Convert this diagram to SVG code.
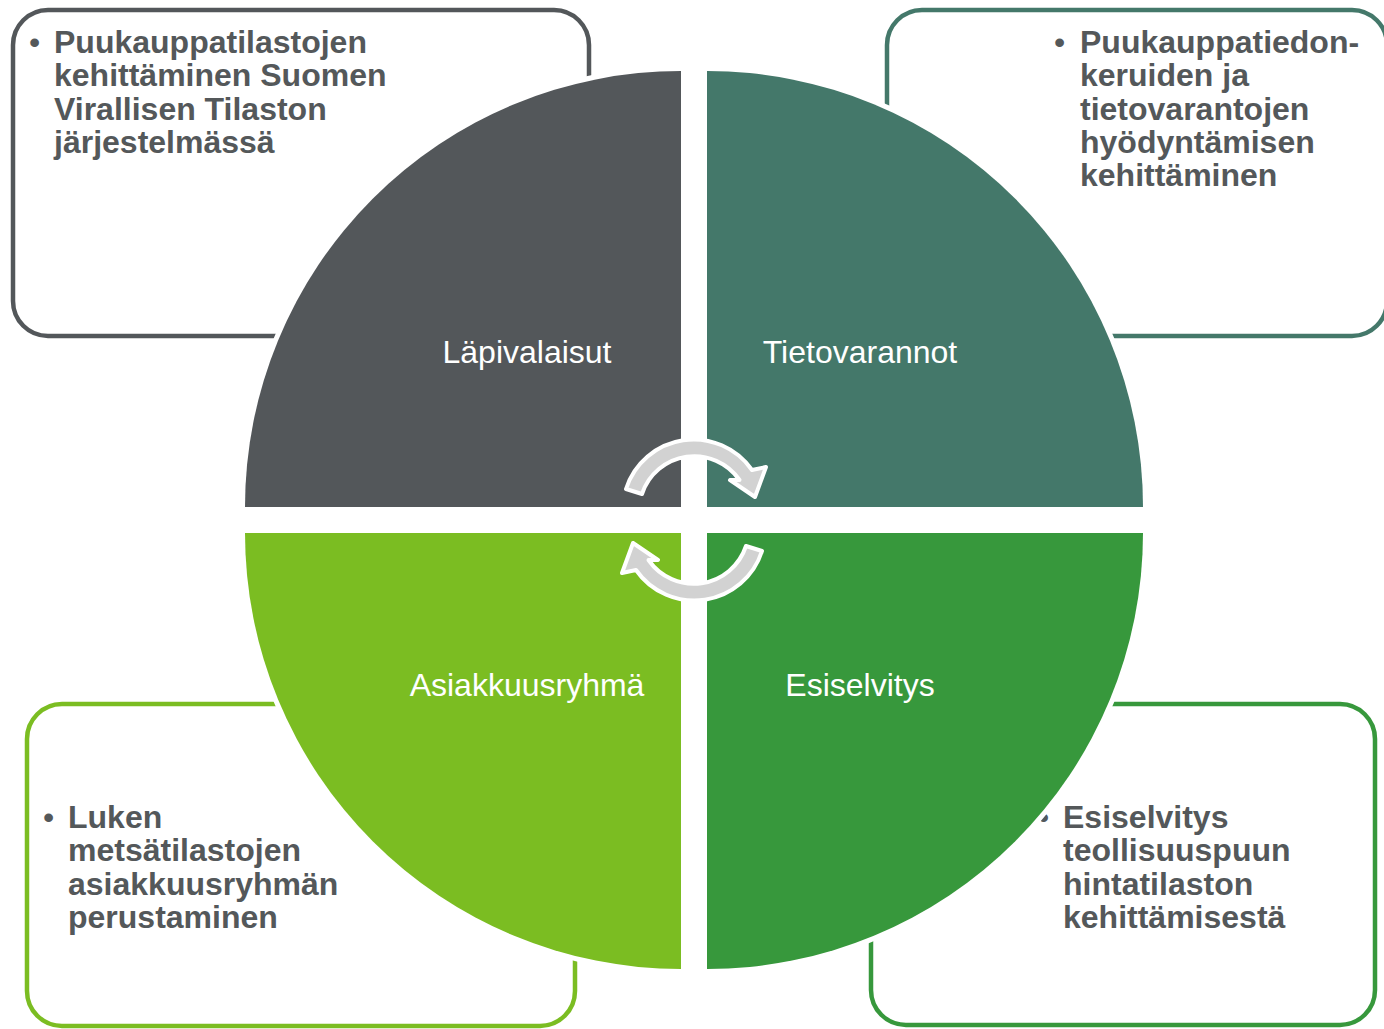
<svg xmlns="http://www.w3.org/2000/svg" width="1384" height="1029" viewBox="0 0 1384 1029">
<style>
.box{fill:#ffffff;stroke-width:4.5}
.bt{font-family:"Liberation Sans",Arial,sans-serif;font-size:32px;font-weight:bold;fill:#54585a}
.bul{font-family:"Liberation Sans",Arial,sans-serif;font-size:32px;fill:#54585a}
.q{stroke:#ffffff;stroke-width:10;paint-order:stroke}
.ql{font-family:"Liberation Sans",Arial,sans-serif;font-size:32px;fill:#ffffff;text-anchor:middle}
.arr{fill:#d2d2d2;stroke:#ffffff;stroke-width:4;stroke-linejoin:round}
</style>
<rect width="1384" height="1029" fill="#ffffff"/>
<g id="box-tl">
<rect class="box" x="13" y="10" width="576" height="326" rx="35" stroke="#53575a"/>
<text class="bul" x="29" y="53">•</text>
<text class="bt"><tspan x="54" y="53">Puukauppatilastojen</tspan><tspan x="54" y="86.3">kehittäminen Suomen</tspan><tspan x="54" y="119.6">Virallisen Tilaston</tspan><tspan x="54" y="153">järjestelmässä</tspan></text>
</g>
<g id="box-tr">
<rect class="box" x="887" y="10" width="500" height="326" rx="35" stroke="#44786a"/>
<text class="bul" x="1054" y="53">•</text>
<text class="bt"><tspan x="1080" y="53">Puukauppatiedon-</tspan><tspan x="1080" y="86.3">keruiden ja</tspan><tspan x="1080" y="119.6">tietovarantojen</tspan><tspan x="1080" y="153">hyödyntämisen</tspan><tspan x="1080" y="186.3">kehittäminen</tspan></text>
</g>
<g id="box-bl">
<rect class="box" x="27" y="704" width="548" height="322" rx="35" stroke="#7bbd22"/>
<text class="bul" x="43" y="828">•</text>
<text class="bt"><tspan x="68" y="828">Luken</tspan><tspan x="68" y="861.3">metsätilastojen</tspan><tspan x="68" y="894.6">asiakkuusryhmän</tspan><tspan x="68" y="928">perustaminen</tspan></text>
</g>
<g id="box-br">
<rect class="box" x="871" y="704" width="504" height="321" rx="35" stroke="#37983c"/>
<text class="bul" x="1038" y="828">•</text>
<text class="bt"><tspan x="1063" y="828">Esiselvitys</tspan><tspan x="1063" y="861.3">teollisuuspuun</tspan><tspan x="1063" y="894.6">hintatilaston</tspan><tspan x="1063" y="928">kehittämisestä</tspan></text>
</g>
<g id="q-tl">
<path class="q" fill="#53575a" d="M681,507 L245,507 A436,436 0 0 1 681,71 Z"/>
<text class="ql" x="527" y="363">Läpivalaisut</text>
</g>
<g id="q-tr">
<path class="q" fill="#44786a" d="M707,507 L707,71 A436,436 0 0 1 1143,507 Z"/>
<text class="ql" x="860" y="363">Tietovarannot</text>
</g>
<g id="q-bl">
<path class="q" fill="#7bbd22" d="M681,533 L681,969 A436,436 0 0 1 245,533 Z"/>
<text class="ql" x="527" y="696">Asiakkuusryhmä</text>
</g>
<g id="q-br">
<path class="q" fill="#37983c" d="M707,533 L1143,533 A436,436 0 0 1 707,969 Z"/>
<text class="ql" x="860" y="696">Esiselvitys</text>
</g>
<g id="connectors">
<path id="arrow-top" class="arr" d="M626,489 A71,71 0 0 1 752,470 L766,467 L755,497 L730,480 L739.5,480 A55,55 0 0 0 642,494 Z"/>
<path id="arrow-bottom" class="arr" transform="rotate(180 694 520)" d="M626,489 A71,71 0 0 1 752,470 L766,467 L755,497 L730,480 L739.5,480 A55,55 0 0 0 642,494 Z"/>
</g>
</svg>
